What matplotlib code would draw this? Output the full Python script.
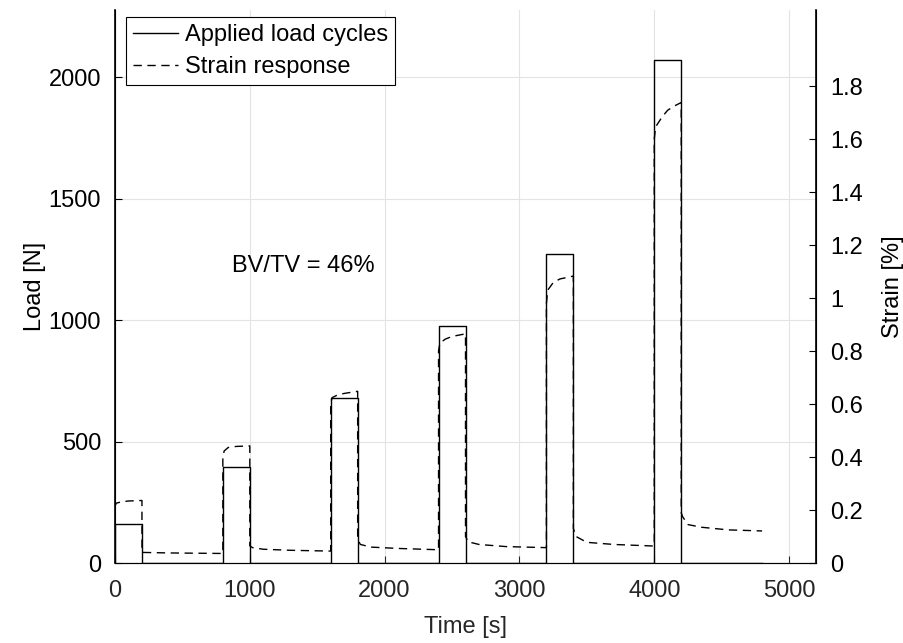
import matplotlib.pyplot as plt
from matplotlib.ticker import FuncFormatter

plt.rcParams['font.family'] = ['Liberation Sans', 'DejaVu Sans']

# applied load steps (time [s], load [N])
load_t = [0, 0, 200, 200, 800, 800, 1000, 1000, 1600, 1600, 1800, 1800,
          2400, 2400, 2600, 2600, 3200, 3200, 3400, 3400, 4000, 4000, 4200, 4200, 4800]
load_N = [0, 160, 160, 0, 0, 397, 397, 0, 0, 679, 679, 0,
          0, 977, 977, 0, 0, 1272, 1272, 0, 0, 2070, 2070, 0, 0]

# strain response (time [s], strain [%])
strain_t = [0, 0, 10, 50, 100, 200, 200, 400, 600, 800,
            800, 810, 840, 900, 1000, 1000, 1020, 1100, 1300, 1600,
            1600, 1610, 1650, 1700, 1800, 1800, 1820, 1900, 2100, 2400,
            2400, 2410, 2450, 2500, 2600, 2600, 2620, 2700, 2900, 3200,
            3200, 3210, 3250, 3300, 3400, 3400, 3420, 3500, 3700, 4000,
            4000, 4010, 4060, 4100, 4150, 4200, 4200, 4210, 4250, 4350, 4550, 4800]
strain_pct = [0, 0.215, 0.226, 0.231, 0.234, 0.236, 0.040, 0.038, 0.037, 0.036,
              0.40, 0.423, 0.436, 0.440, 0.442, 0.065, 0.058, 0.052, 0.048, 0.045,
              0.60, 0.624, 0.634, 0.640, 0.648, 0.090, 0.070, 0.060, 0.055, 0.050,
              0.80, 0.830, 0.845, 0.855, 0.865, 0.100, 0.080, 0.070, 0.062, 0.058,
              0.98, 1.030, 1.058, 1.072, 1.083, 0.130, 0.100, 0.078, 0.070, 0.064,
              1.60, 1.646, 1.685, 1.709, 1.725, 1.738, 0.190, 0.175, 0.145, 0.135, 0.125, 0.121]

load_ticks = [0, 500, 1000, 1500, 2000]
strain_ticks = [0, 0.2, 0.4, 0.6, 0.8, 1.0, 1.2, 1.4, 1.6, 1.8]
time_ticks = [0, 1000, 2000, 3000, 4000, 5000]

fs = 17
gray = '#262626'

fig = plt.figure(figsize=(9.04, 6.43), dpi=100)
ax = fig.add_axes([0.1272, 0.1244, 0.7755, 0.86])
ax2 = ax.twinx()

l1, = ax.plot(load_t, load_N, color='black', lw=1.0, label='Applied load cycles')
l2, = ax2.plot(strain_t, strain_pct, color='black', lw=1.0, dashes=(6, 4),
               label='Strain response')

ax.set_xlim(0, 5200)
ax.set_ylim(0, 2277)
ax2.set_ylim(0, 2.087)

ax.set_xticks(time_ticks)
ax.set_yticks(load_ticks)
ax2.set_yticks(strain_ticks)
ax2.yaxis.set_major_formatter(FuncFormatter(lambda v, p: '%g' % round(v, 1)))

ax.grid(True, color='#e3e3e3', lw=0.8)
ax.set_axisbelow(True)

for a in (ax, ax2):
    a.spines['top'].set_visible(False)
ax.spines['bottom'].set_color(gray)
ax.spines['left'].set_color('black')
ax2.spines['right'].set_color('black')
ax2.spines['right'].set_linewidth(1.2)
ax.spines['left'].set_linewidth(1.2)

ax.tick_params(axis='x', direction='in', length=5, labelsize=fs, colors=gray, pad=12)
ax.tick_params(axis='y', direction='in', length=5, labelsize=fs, colors='black', pad=10)
ax2.tick_params(axis='y', direction='in', length=5, labelsize=fs, colors='black', pad=10)

ax.set_xlabel('Time [s]', fontsize=fs, color=gray, labelpad=10)
ax.set_ylabel('Load [N]', fontsize=fs, labelpad=2)
ax2.set_ylabel('Strain [%]', fontsize=fs, labelpad=14)

ax.text(868, 1224, 'BV/TV = 46%', fontsize=fs, va='center', ha='left')

leg = ax2.legend(handles=[l1, l2], loc='upper left', bbox_to_anchor=(126 / 904, 1 - 17 / 643),
                 bbox_transform=fig.transFigure, borderaxespad=0, fontsize=fs,
                 fancybox=False, framealpha=1, edgecolor='black', handlelength=1.9,
                 handletextpad=0.3, labelspacing=0.42, borderpad=0.3)
leg.get_frame().set_linewidth(0.8)

plt.savefig('out.png', dpi=100)
